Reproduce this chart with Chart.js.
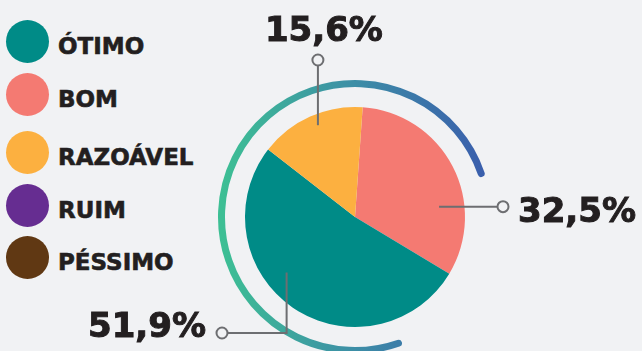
<!DOCTYPE html>
<html>
<head>
<meta charset="utf-8">
<script src="https://cdn.jsdelivr.net/npm/chart.js@4.4.1/dist/chart.umd.min.js"></script>
<style>
  html, body { margin: 0; padding: 0; background: #f1f2f4; }
  #wrap { position: relative; width: 642px; height: 351px; overflow: hidden; }
  #pie { position: absolute; left: 0; top: 0; }
  #legend { position: absolute; left: 6px; top: 0; margin: 0; padding: 0; list-style: none; }
  #legend li { position: absolute; left: 0; height: 43px; display: flex; align-items: center; white-space: nowrap;
    font-family: "DejaVu Sans", sans-serif; font-weight: bold; font-size: 23px; color: #231f20;
    -webkit-text-stroke: 0.6px #231f20; }
  #legend .dot { width: 43px; height: 43px; border-radius: 50%; margin-right: 9px; flex: none; }
  #legend .txt { padding-top: 9px; }
</style>
</head>
<body>
<div id="wrap">
  <ul id="legend"></ul>
  <canvas id="pie" width="642" height="351"></canvas>
</div>
<script>
// avaliação: categorias, percentuais e cores
const categories = ['ÓTIMO', 'BOM', 'RAZOÁVEL', 'RUIM', 'PÉSSIMO'];
const shares = [51.9, 32.5, 15.6, 0, 0];
const colors = ['#008b87', '#f47a72', '#fcb040', '#662d91', '#603813'];
// ordem das fatias no sentido horário a partir do topo
const drawOrder = [1, 0, 2, 3, 4];
const legendTops = [20, 73, 131, 184, 236];

(function () {
    const ink = '#231f20';
    const leader = '#6d6e71';

    const legend = document.getElementById('legend');
    categories.forEach((c, i) => {
        const li = document.createElement('li');
        li.style.top = legendTops[i] + 'px';
        li.innerHTML = '<span class="dot" style="background:' + colors[i] + '"></span><span class="txt">' + c + '</span>';
        legend.appendChild(li);
    });

    function fmt(v) { return v.toFixed(1).replace('.', ',') + '%'; }

    // anel decorativo em gradiente ao redor da pizza
    const ringPlugin = {
        id: 'ring',
        beforeDatasetsDraw(chart) {
            const arc = chart.getDatasetMeta(0).data[0];
            if (!arc) return;
            const { ctx } = chart;
            const cx = arc.x, cy = arc.y, r = arc.outerRadius + 23.5;
            const g = ctx.createLinearGradient(cx - r, 0, cx + r * 0.95, 0);
            g.addColorStop(0, '#3dbf94');
            g.addColorStop(0.5, '#3d8fa6');
            g.addColorStop(1, '#3a5fac');
            ctx.save();
            ctx.strokeStyle = g;
            ctx.lineWidth = 7;
            ctx.lineCap = 'round';
            ctx.beginPath();
            ctx.arc(cx, cy, r, (161 - 90) * Math.PI / 180, (431 - 90) * Math.PI / 180);
            ctx.stroke();
            ctx.restore();
        }
    };

    // linhas de chamada com os percentuais
    const calloutPlugin = {
        id: 'callouts',
        afterDatasetsDraw(chart) {
            const meta = chart.getDatasetMeta(0);
            const arc = meta.data[0];
            if (!arc) return;
            const { ctx } = chart;
            const cx = arc.x, cy = arc.y, R = arc.outerRadius;
            const at = (deg, f) => {
                const a = (deg - 90) * Math.PI / 180;
                return [cx + Math.cos(a) * R * f, cy + Math.sin(a) * R * f];
            };
            const dot = (x, y) => {
                ctx.beginPath();
                ctx.arc(x, y, 5.5, 0, Math.PI * 2);
                ctx.fillStyle = '#f1f2f4';
                ctx.fill();
                ctx.stroke();
            };
            const label = (t, x, y) => {
                ctx.save();
                ctx.fillStyle = ink;
                ctx.strokeStyle = ink;
                ctx.lineWidth = 1;
                ctx.fillText(t, x, y);
                ctx.strokeText(t, x, y);
                ctx.restore();
            };
            ctx.save();
            ctx.strokeStyle = leader;
            ctx.lineWidth = 2;
            ctx.font = 'bold 34px "DejaVu Sans", sans-serif';
            ctx.textBaseline = 'alphabetic';

            // RAZOÁVEL: vertical para cima
            let [x, y] = at(338, 0.9);
            let ey = cy - 157;
            ctx.beginPath(); ctx.moveTo(x, y); ctx.lineTo(x, ey + 5.5); ctx.stroke();
            dot(x, ey);
            ctx.textAlign = 'center';
            label(fmt(shares[2]), x + 6, ey - 19);

            // BOM: horizontal para a direita
            [x, y] = at(83, 0.77);
            let ex = cx + 148;
            ctx.beginPath(); ctx.moveTo(x, y); ctx.lineTo(ex - 5.5, y); ctx.stroke();
            dot(ex, y);
            ctx.textAlign = 'left';
            label(fmt(shares[1]), ex + 15, y + 15);

            // ÓTIMO: para baixo e à esquerda
            [x, y] = at(231, 0.8);
            ey = cy + 116;
            ex = cx - 133;
            ctx.beginPath(); ctx.moveTo(x, y); ctx.lineTo(x, ey); ctx.lineTo(ex + 5.5, ey); ctx.stroke();
            dot(ex, ey);
            ctx.textAlign = 'right';
            label(fmt(shares[0]), ex - 16, ey + 4);
            ctx.restore();
        }
    };

    new Chart(document.getElementById('pie'), {
        type: 'pie',
        data: {
            labels: drawOrder.map(i => categories[i]),
            datasets: [{
                data: drawOrder.map(i => shares[i]),
                backgroundColor: drawOrder.map(i => colors[i]),
                borderWidth: 0
            }]
        },
        options: {
            responsive: false,
            animation: false,
            rotation: 4,
            layout: { padding: { left: 245, top: 107, right: 177, bottom: 24 } },
            plugins: { legend: { display: false }, tooltip: { enabled: false } }
        },
        plugins: [ringPlugin, calloutPlugin]
    });
})();
</script>
</body>
</html>
